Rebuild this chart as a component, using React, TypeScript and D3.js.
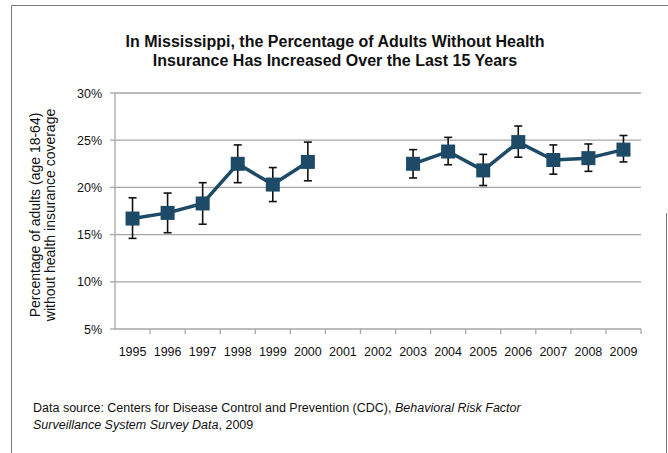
import * as d3 from "d3";
import React from "react";

const years = ["1995", "1996", "1997", "1998", "1999", "2000", "2001", "2002", "2003", "2004", "2005", "2006", "2007", "2008", "2009"];
const pct: (number | null)[] = [16.7, 17.3, 18.3, 22.5, 20.3, 22.7, null, null, 22.5, 23.8, 21.8, 24.8, 22.9, 23.1, 24.0];
const upper: (number | null)[] = [18.9, 19.4, 20.5, 24.5, 22.1, 24.8, null, null, 24.0, 25.3, 23.5, 26.5, 24.5, 24.6, 25.5];
const lower: (number | null)[] = [14.6, 15.2, 16.1, 20.5, 18.5, 20.7, null, null, 21.0, 22.4, 20.2, 23.2, 21.4, 21.7, 22.7];
const yTicks = [5, 10, 15, 20, 25, 30];

const W = 668, H = 453;
const m = { l: 115, r: 27, t: 93, b: 124 };
const font = "'Liberation Sans', Arial, sans-serif";
const navy = "#1d4a66";

type Pt = { year: string, v: number, hi: number, lo: number };

const App: React.FC = () => {
  const x = d3.scaleBand<string>().domain(years).range([m.l, W - m.r]);
  const y = d3.scaleLinear().domain([5, 30]).range([H - m.b, m.t]);
  const cx = (d: string) => (x(d) as number) + x.bandwidth() / 2;

  const pts: Pt[] = years
    .map((yr, i) => ({ year: yr, v: pct[i] as number, hi: upper[i] as number, lo: lower[i] as number }))
    .filter((d, i) => pct[i] !== null);

  const line = d3.line<{ year: string, v: number | null }>()
    .defined(d => d.v !== null)
    .x(d => cx(d.year))
    .y(d => y(d.v as number));
  const lineData = years.map((yr, i) => ({ year: yr, v: pct[i] }));

  const bottom = H - m.b;

  return (
    <svg width={W} height={H} style={{ position: "absolute", left: 0, top: 0, background: "#fff" }} fontFamily={font}>
      {/* frame */}
      <path d={`M11.5,${H} V5.5 H${W}`} fill="none" stroke="#7a7a7a" strokeWidth={1} />
      <line x1={666.5} x2={666.5} y1={213} y2={H} stroke="#7a7a7a" strokeWidth={1} />

      <text x={335} y={47} textAnchor="middle" fontSize={16} fontWeight="bold" fill="#111">In Mississippi, the Percentage of Adults Without Health</text>
      <text x={335} y={66} textAnchor="middle" fontSize={16} fontWeight="bold" fill="#111">Insurance Has Increased Over the Last 15 Years</text>

      {/* grid + y axis */}
      {yTicks.map(t => (
        <g key={t}>
          {t > 5 && <line x1={m.l} x2={W - m.r} y1={y(t)} y2={y(t)} stroke="#a6a6a6" strokeWidth={1.3} />}
          <line x1={m.l - 5} x2={m.l} y1={y(t)} y2={y(t)} stroke="#a6a6a6" strokeWidth={1.3} />
          <text x={m.l - 13} y={y(t) + 4.5} textAnchor="end" fontSize={12.5} fill="#111">{t}%</text>
        </g>
      ))}
      <line x1={m.l} x2={m.l} y1={m.t} y2={bottom} stroke="#a6a6a6" strokeWidth={1.3} />
      <line x1={m.l} x2={W - m.r} y1={bottom} y2={bottom} stroke="#a6a6a6" strokeWidth={1.3} />
      {years.map(yr => (
        <g key={yr}>
          <line x1={(x(yr) as number) + x.bandwidth()} x2={(x(yr) as number) + x.bandwidth()} y1={bottom} y2={bottom + 5} stroke="#a6a6a6" strokeWidth={1.3} />
          <text x={cx(yr)} y={bottom + 27} textAnchor="middle" fontSize={12.5} fill="#111">{yr}</text>
        </g>
      ))}

      <g transform="translate(40,215) rotate(-90)">
        <text x={0} y={0} textAnchor="middle" fontSize={14} fill="#111">Percentage of adults (age 18-64)</text>
        <text x={0} y={15} textAnchor="middle" fontSize={14} fill="#111">without health insurance coverage</text>
      </g>

      {/* error bars */}
      {pts.map(d => (
        <g key={"e" + d.year} stroke="#111" strokeWidth={1.6}>
          <line x1={cx(d.year)} x2={cx(d.year)} y1={y(d.hi)} y2={y(d.lo)} />
          <line x1={cx(d.year) - 4} x2={cx(d.year) + 4} y1={y(d.hi)} y2={y(d.hi)} />
          <line x1={cx(d.year) - 4} x2={cx(d.year) + 4} y1={y(d.lo)} y2={y(d.lo)} />
        </g>
      ))}

      <path d={line(lineData) as string} fill="none" stroke={navy} strokeWidth={3.5} strokeLinejoin="round" />
      {pts.map(d => (
        <rect key={"p" + d.year} x={cx(d.year) - 7} y={y(d.v) - 7} width={14} height={14} fill={navy} />
      ))}

      <text x={33} y={412} fontSize={12.5} fill="#111">
        Data source: Centers for Disease Control and Prevention (CDC), <tspan fontStyle="italic">Behavioral Risk Factor</tspan>
      </text>
      <text x={33} y={429} fontSize={12.5} fill="#111">
        <tspan fontStyle="italic">Surveillance System Survey Data</tspan>, 2009
      </text>
    </svg>
  );
};

export default App;
